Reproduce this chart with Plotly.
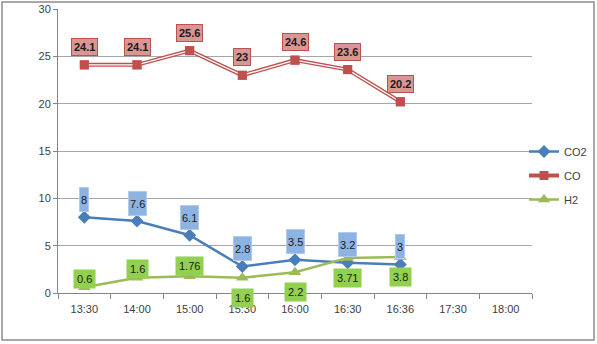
import plotly.graph_objects as go

# Sampling times and measured gas concentrations
times = ["13:30", "14:00", "15:00", "15:30", "16:00", "16:30", "16:36", "17:30", "18:00"]
co2 = [8, 7.6, 6.1, 2.8, 3.5, 3.2, 3]
co = [24.1, 24.1, 25.6, 23, 24.6, 23.6, 20.2]
h2 = [0.6, 1.6, 1.76, 1.6, 2.2, 3.71, 3.8]
y_ticks = [0, 5, 10, 15, 20, 25, 30]

FONT = "Liberation Sans"
BLUE, RED, GREEN = "#4A7EBB", "#C0504D", "#9BBB59"

W, H = 597, 344
ML, MR, MT, MB = 58, 0, 9, 51
PLOT_RIGHT = 532                      # right edge of the gridded area, px
paper_w = W - ML - MR
paper_h = H - MT - MB
x_dom_end = (PLOT_RIGHT - ML) / paper_w


def px_x(px):
    return (px - ML) / paper_w


def px_y(py):
    return (H - MB - py) / paper_h


fig = go.Figure()

# CO2
fig.add_trace(go.Scatter(
    x=times[:len(co2)], y=co2, name="CO2", mode="lines+markers",
    line=dict(color=BLUE, width=2.5),
    marker=dict(symbol="diamond", size=10, color=BLUE),
    legendgroup="co2",
))
# CO, drawn as a double line (red outline, white core)
fig.add_trace(go.Scatter(
    x=times[:len(co)], y=co, name="CO", mode="lines+markers",
    line=dict(color=RED, width=4),
    marker=dict(symbol="square", size=9, color=RED),
    legendgroup="co",
))
fig.add_trace(go.Scatter(
    x=times[:len(co)], y=co, mode="lines", showlegend=False, hoverinfo="skip",
    line=dict(color="white", width=1.4),
))
fig.add_trace(go.Scatter(
    x=times[:len(co)], y=co, mode="markers", showlegend=False, hoverinfo="skip",
    marker=dict(symbol="square", size=9, color=RED),
))
# H2
fig.add_trace(go.Scatter(
    x=times[:len(h2)], y=h2, name="H2", mode="lines+markers",
    line=dict(color=GREEN, width=2.5),
    marker=dict(symbol="triangle-up", size=11, color=GREEN),
    legendgroup="h2",
))

# Data labels
for t, v in zip(times, co):
    fig.add_annotation(
        x=t, y=v, yshift=18, text=f"<b>{v:g}</b>", showarrow=False,
        font=dict(family=FONT, size=11, color="#1a1a1a"),
        bgcolor="#D99694", bordercolor=RED, borderwidth=1, borderpad=2,
    )
for t, v in zip(times, co2):
    fig.add_annotation(
        x=t, y=v, yshift=18, text=f"{v:g}", showarrow=False,
        font=dict(family=FONT, size=11, color="#1a1a1a"),
        bgcolor="#8DB3E2", bordercolor="#B3CBEA", borderwidth=1, borderpad=1,
        height=21,
    )
h2_shift = [8, 9, 10, -20, -20, -20, -20]
for t, v, s in zip(times, h2, h2_shift):
    fig.add_annotation(
        x=t, y=v, yshift=s, text=f"{v:g}", showarrow=False,
        font=dict(family=FONT, size=11, color="#1a1a1a"),
        bgcolor="#92D050", borderpad=3,
    )

# Outer chart border
fig.add_shape(
    type="rect", xref="paper", yref="paper",
    x0=px_x(2), x1=px_x(594), y0=px_y(340), y1=px_y(2),
    line=dict(color="#8C8C8C", width=1.5), fillcolor="rgba(0,0,0,0)", layer="below",
)

fig.update_layout(
    width=W, height=H,
    margin=dict(l=ML, r=MR, t=MT, b=MB, autoexpand=False),
    paper_bgcolor="white", plot_bgcolor="white",
    font=dict(family=FONT, size=11, color="#404040"),
    showlegend=True,
    legend=dict(
        x=px_x(524), y=px_y(137), xanchor="left", yanchor="top",
        font=dict(family=FONT, size=11, color="#404040"),
        traceorder="grouped", tracegroupgap=5, itemwidth=30,
        bgcolor="rgba(0,0,0,0)",
    ),
    xaxis=dict(
        domain=[0, x_dom_end],
        type="category", categoryorder="array", categoryarray=times,
        range=[-0.5, len(times) - 0.5], automargin=False,
        showline=True, linecolor="#868686", linewidth=1,
        ticks="outside", tickson="boundaries", ticklen=5, tickcolor="#868686",
        ticklabelstandoff=6,
        showgrid=False, tickfont=dict(size=11, color="#404040"),
    ),
    yaxis=dict(
        range=[0, 30], tickvals=y_ticks, automargin=False,
        showline=True, linecolor="#868686", linewidth=1,
        ticks="outside", ticklen=4, tickcolor="#868686",
        showgrid=True, gridcolor="#A6A6A6", gridwidth=1,
        zeroline=False, tickfont=dict(size=11, color="#404040"),
    ),
)

fig.write_html("out.html")
